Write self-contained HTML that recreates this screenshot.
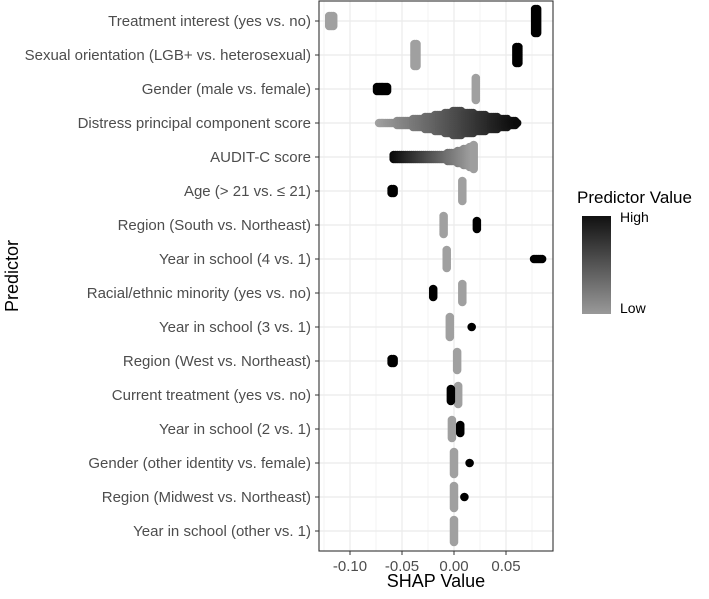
<!DOCTYPE html>
<html><head><meta charset="utf-8"><style>
body{margin:0;background:#fff;width:709px;height:594px;overflow:hidden;font-family:"Liberation Sans",sans-serif}
svg text{font-family:"Liberation Sans",sans-serif}
</style></head><body>
<svg id="c" width="709" height="594">
<defs><linearGradient id="g" x1="0" y1="0" x2="0" y2="1"><stop offset="0" stop-color="#111"/><stop offset="1" stop-color="#999"/></linearGradient></defs>
</svg>
<script>
const labels=["Treatment interest (yes vs. no)","Sexual orientation (LGB+ vs. heterosexual)","Gender (male vs. female)","Distress principal component score","AUDIT-C score","Age (> 21 vs. \u2264 21)","Region (South vs. Northeast)","Year in school (4 vs. 1)","Racial/ethnic minority (yes vs. no)","Year in school (3 vs. 1)","Region (West vs. Northeast)","Current treatment (yes vs. no)","Year in school (2 vs. 1)","Gender (other identity vs. female)","Region (Midwest vs. Northeast)","Year in school (other vs. 1)"];
// low-value cluster SHAP and spread
const lowVal=[-0.118,-0.037,0.021,null,null,0.008,-0.010,-0.007,0.008,-0.004,0.003,0.004,-0.002,0.000,0.000,0.000];
const lowSpread=[5,11,11,0,0,10,9,9,9,10,9,9,9,11,11,11];
const lowWidth=[0.004,0.002,0,0,0,0,0,0,0,0,0,0,0,0,0,0];
// high-value cluster SHAP range and spread
const highMin=[0.078,0.060,-0.074,null,null,-0.060,0.022,0.077,-0.020,0.017,-0.060,-0.003,0.006,0.015,0.010,null];
const highMax=[0.080,0.063,-0.064,null,null,-0.057,0.022,0.085,-0.019,0.017,-0.057,-0.002,0.006,0.015,0.010,null];
const highSpread=[12,8,2,6,0,2,4,0,4,0,2,6,4,0,0,0];
// continuous features
const contMin=[null,null,null,-0.072,-0.058];
const contMax=[null,null,null,0.062,0.020];
const xTicks=[-0.10,-0.05,0.00,0.05];
const xTickLabels=["-0.10","-0.05","0.00","0.05"];

const svg=document.getElementById('c'),NS="http://www.w3.org/2000/svg";
const L=319,R=553,T=1,B=551;
const X=v=>454+v*1040, Y=i=>21+i*34;
function mk(t,a,p){const e=document.createElementNS(NS,t);for(const k in a)e.setAttribute(k,a[k]);(p||svg).appendChild(e);return e;}
function col(t){const c=Math.round(160-t*150);return `rgb(${c},${c},${c})`;}
const grid=mk('g',{});
for(let k=-5;k<=3;k++){const v=k*0.025;const x=X(v);if(x>L&&x<R)mk('line',{x1:x,x2:x,y1:T,y2:B,stroke:'#ebebeb','stroke-width':k%2===0?1.2:0.6},grid);}
labels.forEach((l,i)=>mk('line',{x1:L,x2:R,y1:Y(i),y2:Y(i),stroke:'#ebebeb','stroke-width':1.2},grid));
const pts=mk('g',{});
function dot(x,y,c){mk('circle',{cx:x,cy:y,r:4.3,fill:c},pts);}
labels.forEach((l,i)=>{
 const y=Y(i);
 if(i<contMin.length&&contMin[i]!=null){
  const a=X(contMin[i]),b=X(contMax[i]);
  const hiRight=i===3;
  const peak=i===3?X(0.002):b;
  for(let x=a;x<=b+0.1;x+=2){
   const f=(x-a)/(b-a);
   const t=hiRight?f:1-f;
   let h;
   if(i===3){h=x<peak?12*Math.pow((x-a)/(peak-a),1.6):12*Math.pow(1-(x-peak)/(b-peak),0.8);}
   else{h=1+11*Math.pow(f,4);}
   h=Math.round(h/2)*2;
   for(let d=-h;d<=h;d+=2)dot(x,y+d,col(t));
  }
 }
 if(lowVal[i]!=null){const x0=X(lowVal[i]-lowWidth[i]/2),x1=X(lowVal[i]+lowWidth[i]/2);
  for(let x=x0;x<=x1+0.1;x+=2)for(let d=-lowSpread[i];d<=lowSpread[i]+0.1;d+=2)dot(x,y+d,col(0));}
 if(highMin[i]!=null){const a=X(highMin[i]),b=X(highMax[i]);for(let x=a;x<=b+0.1;x+=2)for(let d=-highSpread[i];d<=highSpread[i]+0.1;d+=2)dot(x,y+d,'#000');}
});
const fr=mk('rect',{x:L,y:T,width:R-L,height:B-T,fill:'none',stroke:'#333','stroke-width':1.1});

labels.forEach((l,i)=>{mk('line',{x1:L-4,x2:L,y1:Y(i),y2:Y(i),stroke:'#333'});
 const t=mk('text',{x:L-8,y:Y(i)+5,'text-anchor':'end','font-size':15,fill:'#4d4d4d'});t.textContent=l;
 });
xTicks.forEach((v,i)=>{mk('line',{x1:X(v),x2:X(v),y1:B,y2:B+4,stroke:'#333'});
 const t=mk('text',{x:X(v),y:B+20,'text-anchor':'middle','font-size':15,fill:'#4d4d4d'});t.textContent=xTickLabels[i];
 });
let t=mk('text',{x:436,y:587,'text-anchor':'middle','font-size':18,fill:'#000'});t.textContent='SHAP Value';

t=mk('text',{x:0,y:0,'text-anchor':'middle','font-size':18,fill:'#000',transform:'translate(18,276) rotate(-90)'});t.textContent='Predictor';

t=mk('text',{x:577,y:203,'font-size':17,fill:'#000'});t.textContent='Predictor Value';

const cb=mk('rect',{x:582,y:216,width:29,height:98,fill:'url(#g)'});

t=mk('text',{x:620,y:222,'font-size':14,fill:'#000'});t.textContent='High';

t=mk('text',{x:620,y:313,'font-size':14,fill:'#000'});t.textContent='Low';

</script>
</body></html>
